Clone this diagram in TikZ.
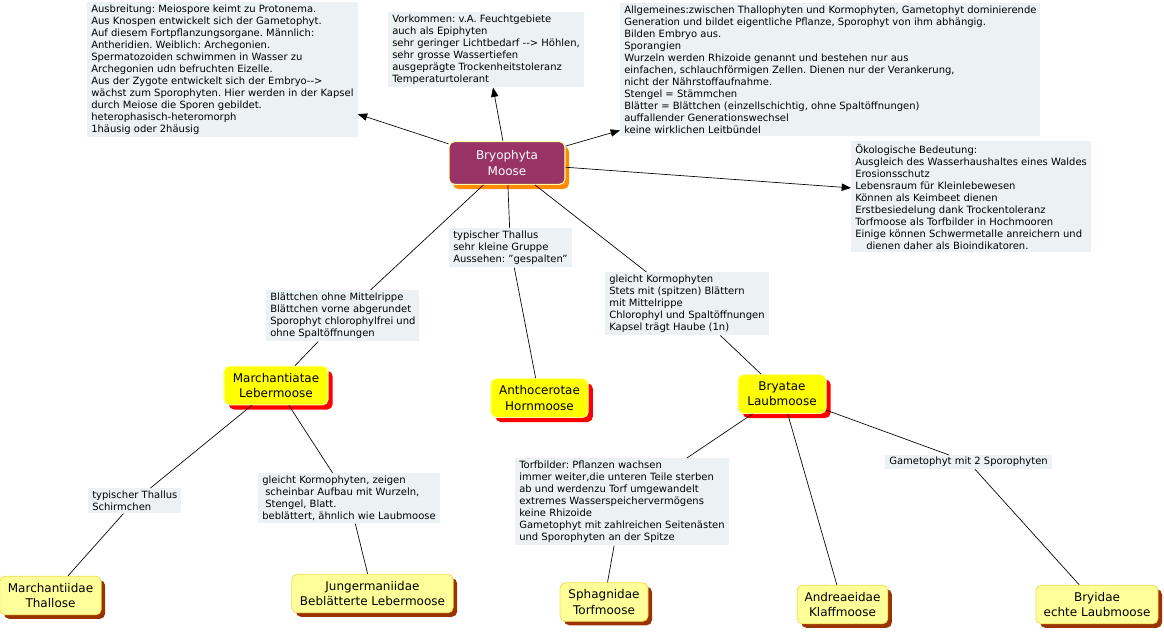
\documentclass[tikz,border=0pt]{standalone}
\usepackage{fontspec}
\setmainfont{DejaVu Sans}
\usetikzlibrary{arrows.meta,shadows}
\frenchspacing
\definecolor{lblfill}{RGB}{236,242,244}
\definecolor{purp}{RGB}{153,51,102}
\definecolor{purpborder}{RGB}{255,255,170}
\definecolor{orangesh}{RGB}{255,140,0}
\definecolor{yelfill}{RGB}{255,255,0}
\definecolor{yelborder}{RGB}{255,255,150}
\definecolor{lyfill}{RGB}{255,255,153}
\definecolor{lyborder}{RGB}{240,220,90}
\definecolor{brownsh}{RGB}{153,51,0}
\begin{document}
\begin{tikzpicture}[x=0.75pt,y=-0.75pt,
  lbl/.style={fill=lblfill, inner xsep=3pt, inner ysep=2pt, align=left, anchor=north west,
    font=\fontsize{7.5}{9}\selectfont},
  mainnode/.style={rounded corners=4pt, fill=purp, draw=purpborder, line width=0.8pt, text=white,
    align=center, font=\fontsize{9}{11.5}\selectfont, minimum width=87pt, minimum height=32pt,
    drop shadow={shadow xshift=3pt, shadow yshift=-3.5pt, fill=orangesh, opacity=1}},
  subnode/.style={rounded corners=4pt, fill=yelfill, draw=yelborder, line width=0.8pt,
    align=center, font=\fontsize{9}{11.5}\selectfont, minimum height=29pt, inner xsep=2pt,
    drop shadow={shadow xshift=3.5pt, shadow yshift=-3.5pt, fill=red, opacity=1}},
  leafnode/.style={rounded corners=4pt, fill=lyfill, draw=lyborder, line width=0.6pt,
    align=center, font=\fontsize{9}{11.5}\selectfont, minimum height=29pt, inner xsep=2pt,
    drop shadow={shadow xshift=3pt, shadow yshift=-3pt, fill=brownsh, opacity=1}},
  conn/.style={draw=black, line width=0.5pt},
  arr/.style={conn, -{Triangle[length=7pt,width=5.5pt]}}
]
\useasboundingbox (0,0) rectangle (1164,632);

% label boxes
\node[lbl] (tl) at (87,2) {Ausbreitung: Meiospore keimt zu Protonema.\\
Aus Knospen entwickelt sich der Gametophyt.\\
Auf diesem Fortpflanzungsorgane. Männlich:\\
Antheridien. Weiblich: Archegonien.\\
Spermatozoiden schwimmen in Wasser zu\\
Archegonien udn befruchten Eizelle.\\
Aus der Zygote entwickelt sich der Embryo-{}->\\
wächst zum Sporophyten. Hier werden in der Kapsel\\
durch Meiose die Sporen gebildet.\\
heterophasisch-heteromorph\\
1häusig oder 2häusig};

\node[lbl] (tm) at (388,12) {Vorkommen: v.A. Feuchtgebiete\\
auch als Epiphyten\\
sehr geringer Lichtbedarf -{}-> Höhlen,\\
sehr grosse Wassertiefen\\
ausgeprägte Trockenheitstoleranz\\
Temperaturtolerant};

\node[lbl] (tr) at (620,3) {Allgemeines:zwischen Thallophyten und Kormophyten, Gametophyt dominierende\\
Generation und bildet eigentliche Pflanze, Sporophyt von ihm abhängig.\\
Bilden Embryo aus.\\
Sporangien\\
Wurzeln werden Rhizoide genannt und bestehen nur aus\\
einfachen, schlauchförmigen Zellen. Dienen nur der Verankerung,\\
nicht der Nährstoffaufnahme.\\
Stengel = Stämmchen\\
Blätter = Blättchen (einzellschichtig, ohne Spaltöffnungen)\\
auffallender Generationswechsel\\
keine wirklichen Leitbündel};

\node[lbl] (rt) at (851,141) {Ökologische Bedeutung:\\
Ausgleich des Wasserhaushaltes eines Waldes\\
Erosionsschutz\\
Lebensraum für Kleinlebewesen\\
Können als Keimbeet dienen\\
Erstbesiedelung dank Trockentoleranz\\
Torfmoose als Torfbilder in Hochmooren\\
Einige können Schwermetalle anreichern und\\
\hspace*{1.1em}dienen daher als Bioindikatoren.};

\node[lbl] (lb1) at (266,290) {Blättchen ohne Mittelrippe\\
Blättchen vorne abgerundet\\
Sporophyt chlorophylfrei und\\
ohne Spaltöffnungen};

\node[lbl] (lb2) at (449,228) {typischer Thallus\\
sehr kleine Gruppe\\
Aussehen: "gespalten"};

\node[lbl] (lb3) at (605,272) {gleicht Kormophyten\\
Stets mit (spitzen) Blättern\\
mit Mittelrippe\\
Chlorophyl und Spaltöffnungen\\
Kapsel trägt Haube (1n)};

\node[lbl] (lb4) at (88,488) {typischer Thallus\\
Schirmchen};

\node[lbl] (lb5) at (258,473) {gleicht Kormophyten, zeigen\\
\hspace*{0.3em}scheinbar Aufbau mit Wurzeln,\\
\hspace*{0.3em}Stengel, Blatt.\\
beblättert, ähnlich wie Laubmoose};

\node[lbl] (lb6) at (515,458) {Torfbilder: Pflanzen wachsen\\
immer weiter,die unteren Teile sterben\\
ab und werdenzu Torf umgewandelt\\
extremes Wasserspeichervermögens\\
keine Rhizoide\\
Gametophyt mit zahlreichen Seitenästen\\
und Sporophyten an der Spitze};

\node[lbl, inner ysep=1.5pt] (lb7) at (885,455) {Gametophyt mit 2 Sporophyten};

% main node
\node[mainnode] (bryo) at (507,163) {Bryophyta\\Moose};

% sub nodes
\node[subnode, minimum width=78pt] (march) at (276,385.5) {Marchantiatae\\Lebermoose};
\node[subnode, minimum width=73pt] (antho) at (539.5,398) {Anthocerotae\\Hornmoose};
\node[subnode, minimum width=66pt] (bryat) at (782,394) {Bryatae\\Laubmoose};

% leaf nodes
\node[leafnode, minimum width=76pt] (marchi) at (50.5,595.5) {Marchantiidae\\Thallose};
\node[leafnode, minimum width=121pt] (junger) at (372.5,593.5) {Jungermaniidae\\Beblätterte Lebermoose};
\node[leafnode, minimum width=66pt] (sphag) at (604,602) {Sphagnidae\\Torfmoose};
\node[leafnode, minimum width=68pt] (andre) at (842.5,604.5) {Andreaeidae\\Klaffmoose};
\node[leafnode, minimum width=91.5pt] (bryid) at (1097,604.5) {Bryidae\\echte Laubmoose};

% arrows
\draw[arr] (bryo) -- (tl);
\draw[arr] (bryo) -- (tm);
\draw[arr] (bryo) -- (tr);
\draw[arr] (bryo) -- (rt);

% connectors
\draw[conn] (bryo) -- (lb1);
\draw[conn] (lb1) -- (march);
\draw[conn] (bryo) -- (lb2);
\draw[conn] (lb2) -- (antho);
\draw[conn] (bryo) -- (lb3);
\draw[conn] (lb3) -- (bryat);
\draw[conn] (march) -- (lb4);
\draw[conn] (lb4) -- (marchi);
\draw[conn] (march) -- (lb5);
\draw[conn] (lb5) -- (junger);
\draw[conn] (bryat) -- (lb6);
\draw[conn] (lb6) -- (sphag);
\draw[conn] (bryat) -- (andre);
\draw[conn] (bryat) -- (lb7);
\draw[conn] (lb7) -- (bryid);
\end{tikzpicture}
\end{document}
